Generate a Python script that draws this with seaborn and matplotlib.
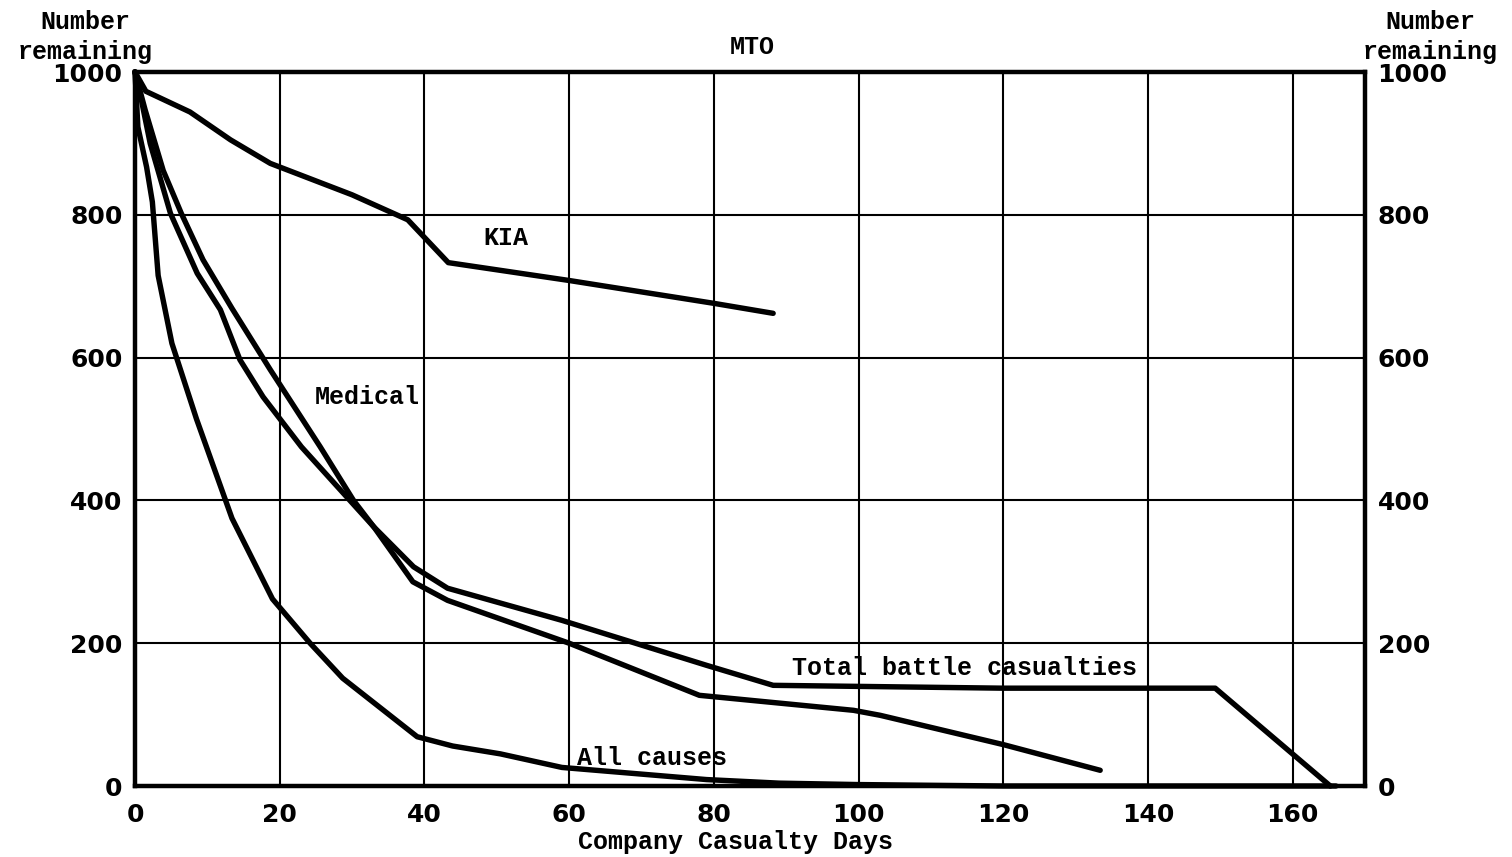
import matplotlib
matplotlib.use("Agg")
import matplotlib.pyplot as plt
import seaborn as sns
import numpy as np

# ---- data ----
kia_x = [0, 1.5, 7.6, 13.2, 18.7, 30, 37.7, 43.3, 60, 80, 88.2]
kia_y = [1000, 973, 944, 905, 872, 828, 793, 733, 708, 676, 662]

medical_x = [0, 1.4, 3.9, 6.4, 9.4, 13.4, 18.7, 25.6, 30.2, 33, 38.4, 43.2, 60, 78, 99.3, 103, 120, 133.4]
medical_y = [1000, 947, 862, 802, 737, 669, 583, 475, 400, 363, 286, 260, 200, 127, 106, 99, 58, 22]

battle_x = [0, 0.7, 2.1, 4.9, 8.6, 11.8, 14.5, 17.7, 23, 33, 38.5, 43.2, 59, 79, 88.2, 120, 149.3, 165.2]
battle_y = [1000, 970, 900, 802, 718, 667, 597, 545, 475, 363, 307, 277, 232, 169, 141, 137, 137, 0]

allc_x = [0, 0.4, 1.6, 2.4, 3.2, 5.1, 8.5, 13.4, 19, 24.2, 28.7, 39, 43.9, 50.5, 59, 79, 89, 100, 120, 166]
allc_y = [1000, 923, 867, 818, 715, 620, 514, 375, 262, 200, 151, 69, 56, 45, 26, 9, 4, 2, 0, 0]

x_ticks = [0, 20, 40, 60, 80, 100, 120, 140, 160]
y_ticks = [0, 200, 400, 600, 800, 1000]

title = "MTO"
x_label = "Company Casualty Days"
y_label = "Number\nremaining"
series_labels = [("KIA", 48.2, 767), ("Medical", 24.9, 545),
                 ("Total battle casualties", 90.8, 165), ("All causes", 61.1, 39)]

# ---- plot ----
sns.set_theme(style="white")
plt.rcParams['font.family'] = ['DejaVu Sans']
plt.rcParams['text.color'] = 'black'
W, H, DPI = 1512, 857, 100
fig = plt.figure(figsize=(W / DPI, H / DPI), dpi=DPI)
ax = fig.add_axes([135 / W, 1 - 786 / H, (1365 - 135) / W, (786 - 72) / H])

for xs, ys in [(kia_x, kia_y), (medical_x, medical_y), (battle_x, battle_y), (allc_x, allc_y)]:
    sns.lineplot(x=xs, y=ys, ax=ax, color="black", linewidth=3.9, sort=False,
                 estimator=None, clip_on=False, solid_joinstyle="round",
                 solid_capstyle="round")

ax.set_xlim(0, 170)
ax.set_ylim(0, 1000)
ax.set_xticks(x_ticks)
ax.set_yticks(y_ticks)
ax.grid(True, color="black", linewidth=1.5)
ax.set_axisbelow(True)
for s in ax.spines.values():
    s.set_color("black")
    s.set_linewidth(3.2)
    s.set_visible(True)

tick_font = dict(fontfamily="DejaVu Sans", fontweight="bold", fontsize=18, color="black")
ax.set_xticklabels([str(t) for t in x_ticks], **tick_font)
ax.set_yticklabels([str(t) for t in y_ticks], **tick_font)
ax.tick_params(axis="both", length=0, labelcolor="black")
ax.tick_params(axis="x", pad=12)
ax.tick_params(axis="y", pad=9)

ax2 = ax.twinx()
ax2.set_ylim(0, 1000)
ax2.set_yticks(y_ticks)
ax2.set_yticklabels([str(t) for t in y_ticks], **tick_font)
ax2.tick_params(axis="y", length=0, pad=9, labelcolor="black")
for s in ax2.spines.values():
    s.set_visible(False)
ax2.grid(False)

mono = dict(fontfamily="Liberation Mono", fontsize=18, color="black", fontweight="bold")
ax.set_xlabel("")
ax.set_ylabel("")
fig.text(735 / W, 1 - 842 / H, x_label, ha="center", va="center", **mono)
fig.text(752 / W, 1 - 47 / H, title, ha="center", va="center", color="black",
         fontfamily="Liberation Mono", fontsize=18, fontweight="bold")
fig.text(85 / W, 1 - 37 / H, y_label, ha="center", va="center",
         linespacing=1.35, **mono)
fig.text(1430 / W, 1 - 37 / H, y_label, ha="center", va="center",
         linespacing=1.35, **mono)

for txt, tx, ty in series_labels:
    ax.text(tx, ty, txt, ha="left", va="center", **mono)

fig.savefig("out.png", dpi=DPI, facecolor="white")
